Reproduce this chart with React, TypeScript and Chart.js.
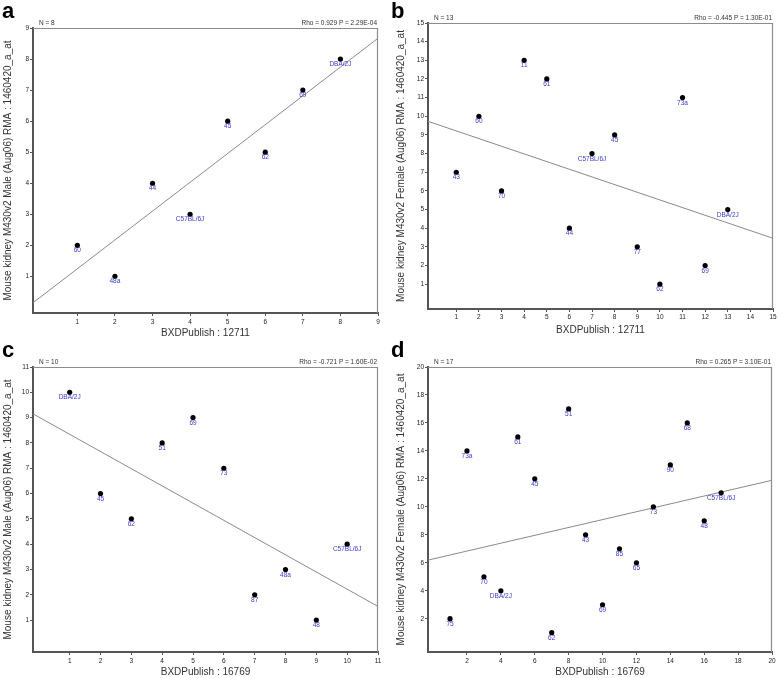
import React, { useEffect, useRef } from "react";
import { Chart, registerables } from "chart.js";

Chart.register(...registerables);

// ---------------- data ----------------
const xA = [1, 2, 3, 4, 5, 6, 7, 8];
const yA = [2, 1, 4, 3, 6, 5, 7, 8];
const strainsA = ["60", "48a", "44", "C57BL/6J", "45", "62", "69", "DBA/2J"];
const fitA = [0.15, 8.67];
const ticksXA = [1, 2, 3, 4, 5, 6, 7, 8, 9];
const ticksYA = [1, 2, 3, 4, 5, 6, 7, 8, 9];

const xB = [1, 2, 3, 4, 5, 6, 7, 8, 9, 10, 11, 12, 13];
const yB = [7, 10, 6, 13, 12, 4, 8, 9, 3, 1, 11, 2, 5];
const strainsB = ["43", "60", "70", "11", "61", "44", "C57BL/6J", "45", "77", "62", "73a", "69", "DBA/2J"];
const fitB = [9.73, 3.46];
const ticksXB = [1, 2, 3, 4, 5, 6, 7, 8, 9, 10, 11, 12, 13, 14, 15];
const ticksYB = [1, 2, 3, 4, 5, 6, 7, 8, 9, 10, 11, 12, 13, 14, 15];

const xC = [1, 2, 3, 4, 5, 6, 7, 8, 9, 10];
const yC = [10, 6, 5, 8, 9, 7, 2, 3, 1, 4];
const strainsC = ["DBA/2J", "45", "62", "51", "69", "73", "87", "48a", "48", "C57BL/6J"];
const fitC = [9.15, 1.54];
const ticksXC = [1, 2, 3, 4, 5, 6, 7, 8, 9, 10, 11];
const ticksYC = [1, 2, 3, 4, 5, 6, 7, 8, 9, 10, 11];

const xD = [1, 2, 3, 4, 5, 6, 7, 8, 9, 10, 11, 12, 13, 14, 15, 16, 17];
const yD = [2, 14, 5, 4, 15, 12, 1, 17, 8, 3, 7, 6, 10, 13, 16, 9, 11];
const strainsD = ["75", "73a", "70", "DBA/2J", "61", "45", "62", "51", "43", "69", "85", "65", "73", "90", "68", "48", "C57BL/6J"];
const fitD = [6.19, 11.9];
const ticksXD = [2, 4, 6, 8, 10, 12, 14, 16, 18, 20];
const ticksYD = [2, 4, 6, 8, 10, 12, 14, 16, 18, 20];

const maleTitle = "Mouse kidney M430v2 Male (Aug06) RMA : 1460420_a_at";
const femaleTitle = "Mouse kidney M430v2 Female (Aug06) RMA : 1460420_a_at";
const xTitle1 = "BXDPublish : 12711";
const xTitle2 = "BXDPublish : 16769";

const letters = ["a", "b", "c", "d"];
const nTexts = ["N = 8", "N = 13", "N = 10", "N = 17"];
const rhoTexts = [
  "Rho = 0.929 P = 2.29E-04",
  "Rho = -0.445 P = 1.30E-01",
  "Rho = -0.721 P = 1.60E-02",
  "Rho = 0.265 P = 3.10E-01",
];

// ---------------- layout ----------------
const W = 389;
const H = 339;
const FONT = "'Liberation Sans', Arial, sans-serif";
const LABEL_BLUE = "#3b3bcc";

type Geo = {
  left: number; top: number; // canvas page position
  L: number; T: number; R: number; B: number; // plot area in canvas
  xMin: number; yMin: number;
  xTickPad: number; xTitlePad: number; yTitlePad: number;
};

const geos: Geo[] = [
  { left: 0, top: 0, L: 33, T: 28, R: 378, B: 313, xMin: -0.18, yMin: -0.18, xTickPad: 2, xTitlePad: 0, yTitlePad: 2 },
  { left: 389, top: 0, L: 39, T: 23, R: 384, B: 309, xMin: -0.25, yMin: -0.33, xTickPad: 1, xTitlePad: 3, yTitlePad: 6 },
  { left: 0, top: 339, L: 33, T: 28, R: 378, B: 313, xMin: -0.19, yMin: -0.26, xTickPad: 2, xTitlePad: 0, yTitlePad: 2 },
  { left: 389, top: 339, L: 39, T: 28, R: 383, B: 313, xMin: -0.3, yMin: -0.38, xTickPad: 2, xTitlePad: 0, yTitlePad: 6 },
];

type Spec = {
  xs: number[]; ys: number[]; strains: string[]; fit: number[];
  xTicks: number[]; yTicks: number[]; yTitle: string; xTitle: string;
};

const specs: Spec[] = [
  { xs: xA, ys: yA, strains: strainsA, fit: fitA, xTicks: ticksXA, yTicks: ticksYA, yTitle: maleTitle, xTitle: xTitle1 },
  { xs: xB, ys: yB, strains: strainsB, fit: fitB, xTicks: ticksXB, yTicks: ticksYB, yTitle: femaleTitle, xTitle: xTitle1 },
  { xs: xC, ys: yC, strains: strainsC, fit: fitC, xTicks: ticksXC, yTicks: ticksYC, yTitle: maleTitle, xTitle: xTitle2 },
  { xs: xD, ys: yD, strains: strainsD, fit: fitD, xTicks: ticksXD, yTicks: ticksYD, yTitle: femaleTitle, xTitle: xTitle2 },
];

function Panel({ idx }: { idx: number }) {
  const ref = useRef<HTMLCanvasElement>(null);
  const g = geos[idx];
  const s = specs[idx];

  useEffect(() => {
    const xMax = s.xTicks[s.xTicks.length - 1];
    const yMax = s.yTicks[s.yTicks.length - 1];

    const decor = {
      id: "decor" + idx,
      beforeDatasetsDraw(chart: any) {
        const { ctx, chartArea: a } = chart;
        ctx.save();
        ctx.strokeStyle = "#8c8c8c";
        ctx.lineWidth = 1.2;
        ctx.beginPath();
        ctx.moveTo(a.left, a.top + 0.5);
        ctx.lineTo(a.right - 0.5, a.top + 0.5);
        ctx.lineTo(a.right - 0.5, a.bottom);
        ctx.stroke();
        ctx.restore();
      },
      afterDatasetsDraw(chart: any) {
        const { ctx, chartArea: a } = chart;
        ctx.save();
        // point labels
        const meta = chart.getDatasetMeta(0);
        ctx.fillStyle = LABEL_BLUE;
        ctx.font = `6.5px ${FONT}`;
        ctx.textAlign = "center";
        ctx.textBaseline = "top";
        meta.data.forEach((el: any, i: number) => {
          ctx.fillText(s.strains[i], el.x, el.y + 2);
        });
        // N and Rho
        ctx.fillStyle = "#333";
        ctx.font = `6.5px ${FONT}`;
        ctx.textBaseline = "middle";
        ctx.textAlign = "left";
        ctx.fillText(nTexts[idx], a.left + 6, a.top - 5);
        ctx.textAlign = "right";
        ctx.fillText(rhoTexts[idx], a.right - 1, a.top - 5);
        // panel letter
        ctx.fillStyle = "#000";
        ctx.font = `bold 22px ${FONT}`;
        ctx.textAlign = "left";
        ctx.textBaseline = "alphabetic";
        ctx.fillText(letters[idx], idx % 2 === 0 ? 2 : 2, 18);
        ctx.restore();
      },
    };

    const tickFont = { family: FONT, size: 6.5 };
    const chart = new Chart(ref.current as HTMLCanvasElement, {
      type: "scatter",
      data: {
        datasets: [
          {
            data: s.xs.map((x, i) => ({ x, y: s.ys[i] })),
            pointRadius: 2.6,
            pointHoverRadius: 2.6,
            pointBackgroundColor: "#000",
            pointBorderColor: "#000",
            pointBorderWidth: 0,
          },
          {
            data: [
              { x: g.xMin, y: s.fit[0] },
              { x: xMax, y: s.fit[1] },
            ],
            showLine: true,
            borderColor: "#8a8a8a",
            borderWidth: 1,
            pointRadius: 0,
            pointHoverRadius: 0,
          },
        ],
      } as any,
      options: {
        responsive: false,
        animation: false,
        events: [],
        layout: { padding: { top: g.T, right: W - g.R, left: 0, bottom: 0 } },
        plugins: { legend: { display: false }, tooltip: { enabled: false } },
        scales: {
          x: {
            type: "linear",
            min: g.xMin,
            max: xMax,
            afterBuildTicks: (sc: any) => {
              sc.ticks = s.xTicks.map((v) => ({ value: v }));
            },
            afterFit: (sc: any) => {
              sc.height = H - g.B;
            },
            grid: { drawOnChartArea: false, drawTicks: true, tickLength: 3, color: "#555", lineWidth: 1 },
            border: { display: true, color: "#555", width: 2 },
            ticks: {
              font: tickFont,
              color: "#222",
              padding: g.xTickPad,
              maxRotation: 0,
              autoSkip: false,
              callback: (v: any) => String(v),
            },
            title: {
              display: true,
              text: s.xTitle,
              font: { family: FONT, size: 10 },
              color: "#333",
              padding: { top: 0, bottom: g.xTitlePad },
            },
          },
          y: {
            type: "linear",
            min: g.yMin,
            max: yMax,
            afterBuildTicks: (sc: any) => {
              sc.ticks = s.yTicks.map((v) => ({ value: v }));
            },
            afterFit: (sc: any) => {
              sc.width = g.L;
            },
            grid: { drawOnChartArea: false, drawTicks: true, tickLength: 3, color: "#555", lineWidth: 1 },
            border: { display: true, color: "#555", width: 2 },
            ticks: {
              font: tickFont,
              color: "#222",
              padding: 1,
              autoSkip: false,
              callback: (v: any) => String(v),
            },
            title: {
              display: true,
              text: s.yTitle,
              font: { family: FONT, size: 10 },
              color: "#333",
              padding: { top: g.yTitlePad, bottom: 0 },
            },
          },
        },
      } as any,
      plugins: [decor],
    });
    return () => chart.destroy();
  }, []);

  return (
    <canvas
      ref={ref}
      width={W}
      height={H}
      style={{ position: "absolute", left: g.left, top: g.top, width: W, height: H }}
    />
  );
}

export default function App() {
  return (
    <div style={{ position: "absolute", left: 0, top: 0, width: 778, height: 678, background: "#fff" }}>
      {[0, 1, 2, 3].map((i) => (
        <Panel key={i} idx={i} />
      ))}
    </div>
  );
}
